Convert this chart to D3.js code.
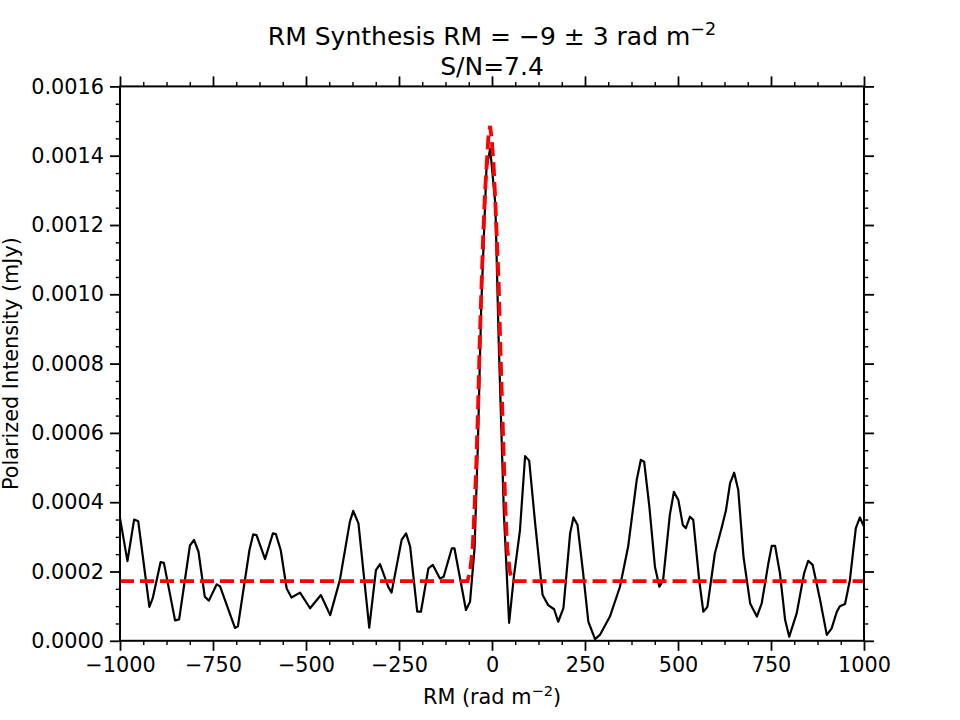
<!DOCTYPE html>
<html>
<head>
<meta charset="utf-8">
<title>RM Synthesis</title>
<script src="https://d3js.org/d3.v7.min.js"></script>
<style>
    body { margin: 0; background: #fff; }
    text { font-family: "DejaVu Sans", sans-serif; fill: #000; }
    .axis path { stroke: #000; stroke-width: 2px; }
    .axis line { stroke: #000; stroke-width: 1.8px; }
    .minor line { stroke-width: 1.4px; }
    .axis text { font-size: 20.8px; }
</style>
</head>
<body>
<svg id="chart"></svg>
<script>
    // RM grid (rad m^-2) and polarized intensity (mJy)
    var rm = [-1000, -980, -962, -951, -921, -912, -891, -882, -852, -841, -812, -801, -789, -772, -761,
        -740, -731, -691, -683, -652, -642, -633, -610, -589, -581, -568, -552, -539, -516, -489,
        -460, -435, -409, -382, -373, -359, -330, -312, -301, -279, -270, -243, -231, -220, -201,
        -191, -171, -159, -140, -130, -108, -101, -70, -59, -47, -38, -29, -15, -5, 9,
        18, 32, 46, 59, 75, 89, 100, 116, 136, 151, 167, 178, 192, 210, 219,
        230, 245, 259, 277, 290, 317, 344, 366, 389, 400, 409, 423, 438, 450, 460,
        478, 489, 501, 513, 521, 532, 541, 557, 568, 579, 599, 617, 629, 640, 651,
        662, 676, 694, 712, 725, 743, 752, 761, 774, 788, 799, 819, 839, 850, 862,
        882, 900, 913, 927, 935, 949, 962, 978, 989, 998, 1000];
    var intensity = [0.000354, 0.000230, 0.000350, 0.000345, 0.000098, 0.000123, 0.000227, 0.000225, 0.000059, 0.000062, 0.000275, 0.000291, 0.000257, 0.000127, 0.000116,
        0.000163, 0.000157, 0.000037, 0.000042, 0.000262, 0.000307, 0.000305, 0.000236, 0.000310, 0.000308, 0.000262, 0.000151, 0.000125, 0.000139, 0.000094,
        0.000132, 0.000074, 0.000175, 0.000344, 0.000375, 0.000339, 0.000038, 0.000204, 0.000221, 0.000156, 0.000139, 0.000291, 0.000310, 0.000272, 0.000084,
        0.000084, 0.000209, 0.000219, 0.000180, 0.000185, 0.000267, 0.000267, 0.000089, 0.000113, 0.000266, 0.000565, 0.000963, 0.001360, 0.001420, 0.001260,
        0.000864, 0.000366, 0.000052, 0.000187, 0.000317, 0.000533, 0.000520, 0.000339, 0.000132, 0.000103, 0.000091, 0.000055, 0.000094, 0.000310, 0.000356,
        0.000334, 0.000195, 0.000055, 0.000005, 0.000017, 0.000070, 0.000156, 0.000272, 0.000464, 0.000522, 0.000517, 0.000387, 0.000214, 0.000156, 0.000175,
        0.000363, 0.000430, 0.000406, 0.000334, 0.000325, 0.000358, 0.000349, 0.000175, 0.000084, 0.000098, 0.000252, 0.000325, 0.000377, 0.000455, 0.000485,
        0.000435, 0.000243, 0.000108, 0.000070, 0.000108, 0.000224, 0.000274, 0.000274, 0.000195, 0.000060, 0.000012, 0.000079, 0.000195, 0.000231, 0.000219,
        0.000118, 0.000017, 0.000036, 0.000084, 0.000100, 0.000106, 0.000175, 0.000325, 0.000356, 0.000334, 0.000330];

    // fitted model (red dashed)
    var fitRm = [-1000, -66, -59, -52, -47, -42, -37, -33, -28, -24, -19, -14, -10, -5, -1,
        4, 8, 13, 18, 22, 27, 32, 36, 41, 48, 55, 1000];
    var fitIntensity = [0.000172, 0.000172, 0.000200, 0.000266, 0.000380, 0.000516, 0.000690, 0.000864, 0.001030, 0.001160, 0.001290, 0.001380, 0.001450, 0.001486, 0.001450,
        0.001380, 0.001290, 0.001160, 0.001030, 0.000864, 0.000690, 0.000516, 0.000380, 0.000266, 0.000200, 0.000172, 0.000172];

    var xTicks = [-1000, -750, -500, -250, 0, 250, 500, 750, 1000];
    var yTicks = [0, 0.0002, 0.0004, 0.0006, 0.0008, 0.0010, 0.0012, 0.0014, 0.0016];

    var width = 960, height = 720;
    var margin = {left: 120, right: 96, top: 86.4, bottom: 79.2};
    var x0 = margin.left, x1 = width - margin.right;
    var y0 = height - margin.bottom, y1 = margin.top;

    var svg = d3.select("#chart")
        .attr("width", width)
        .attr("height", height);

    var x = d3.scaleLinear().domain([-1000, 1000]).range([x0, x1]);
    var y = d3.scaleLinear().domain([0, 0.0016]).range([y0, y1]);

    // minor tick positions (3 between each pair of majors)
    var xMinor = d3.range(-1000, 1000.1, 62.5).filter(function(v) { return xTicks.indexOf(v) < 0; });
    var yMinor = d3.range(0, 17).map(function(i) { return i * 0.0001; }).concat(
        d3.range(0, 16).map(function(i) { return i * 0.0001 + 0.00005; }))
        .filter(function(v) { return Math.abs(Math.round(v / 0.0002) * 0.0002 - v) > 1e-9; });

    var fmtX = d3.format("d");
    var fmtY = d3.format(".4f");

    function addAxis(axisFn, pos, transform, ticks, size, labels, cls) {
        var a = axisFn(pos).tickValues(ticks).tickSize(size).tickSizeOuter(0);
        if (labels) a.tickFormat(labels).tickPadding(6); else a.tickFormat("");
        var g = svg.append("g").attr("class", "axis " + cls).attr("transform", transform).call(a);
        g.select(".domain").remove();
        return g;
    }

    // minor ticks
    addAxis(d3.axisBottom, x, "translate(0," + y0 + ")", xMinor, 4.3, null, "minor");
    addAxis(d3.axisTop, x, "translate(0," + y1 + ")", xMinor, 4.3, null, "minor");
    addAxis(d3.axisLeft, y, "translate(" + x0 + ",0)", yMinor, 4.3, null, "minor");
    addAxis(d3.axisRight, y, "translate(" + x1 + ",0)", yMinor, 4.3, null, "minor");

    // major ticks
    var gx = addAxis(d3.axisBottom, x, "translate(0," + y0 + ")", xTicks, 10, fmtX, "major");
    addAxis(d3.axisTop, x, "translate(0," + y1 + ")", xTicks, 10, null, "major");
    var gy = addAxis(d3.axisLeft, y, "translate(" + x0 + ",0)", yTicks, 10, fmtY, "major");
    addAxis(d3.axisRight, y, "translate(" + x1 + ",0)", yTicks, 10, null, "major");
    gx.selectAll("text").attr("dy", "0.75em");

    // data lines
    var line = d3.line()
        .x(function(d) { return x(d[0]); })
        .y(function(d) { return y(d[1]); });

    svg.append("path")
        .datum(d3.zip(rm, intensity))
        .attr("d", line)
        .attr("fill", "none")
        .attr("stroke", "#000")
        .attr("stroke-width", 2.2)
        .attr("stroke-linejoin", "round");

    svg.append("path")
        .datum(d3.zip(fitRm, fitIntensity))
        .attr("d", line)
        .attr("fill", "none")
        .attr("stroke", "#ff0000")
        .attr("stroke-width", 3.8)
        .attr("stroke-dasharray", "14,6");

    // frame
    svg.append("rect")
        .attr("x", x0).attr("y", y1)
        .attr("width", x1 - x0).attr("height", y0 - y1)
        .attr("fill", "none")
        .attr("stroke", "#000")
        .attr("stroke-width", 2);

    // title
    var title = svg.append("text")
        .attr("x", (x0 + x1) / 2).attr("y", 45)
        .attr("text-anchor", "middle")
        .style("font-size", "25px");
    title.append("tspan").text("RM Synthesis RM = \u22129 \u00b1 3 rad m");
    title.append("tspan").attr("dy", -10).style("font-size", "17.5px").text("\u22122");
    svg.append("text")
        .attr("x", (x0 + x1) / 2).attr("y", 75)
        .attr("text-anchor", "middle")
        .style("font-size", "25px")
        .text("S/N=7.4");

    // axis labels
    var xl = svg.append("text")
        .attr("x", (x0 + x1) / 2).attr("y", 704)
        .attr("text-anchor", "middle")
        .style("font-size", "20.8px");
    xl.append("tspan").text("RM (rad m");
    xl.append("tspan").attr("dy", -8).style("font-size", "14.6px").text("\u22122");
    xl.append("tspan").attr("dy", 8).text(")");

    svg.append("text")
        .attr("transform", "translate(18," + ((y0 + y1) / 2) + ") rotate(-90)")
        .attr("text-anchor", "middle")
        .style("font-size", "20.8px")
        .text("Polarized Intensity (mJy)");
</script>
</body>
</html>
